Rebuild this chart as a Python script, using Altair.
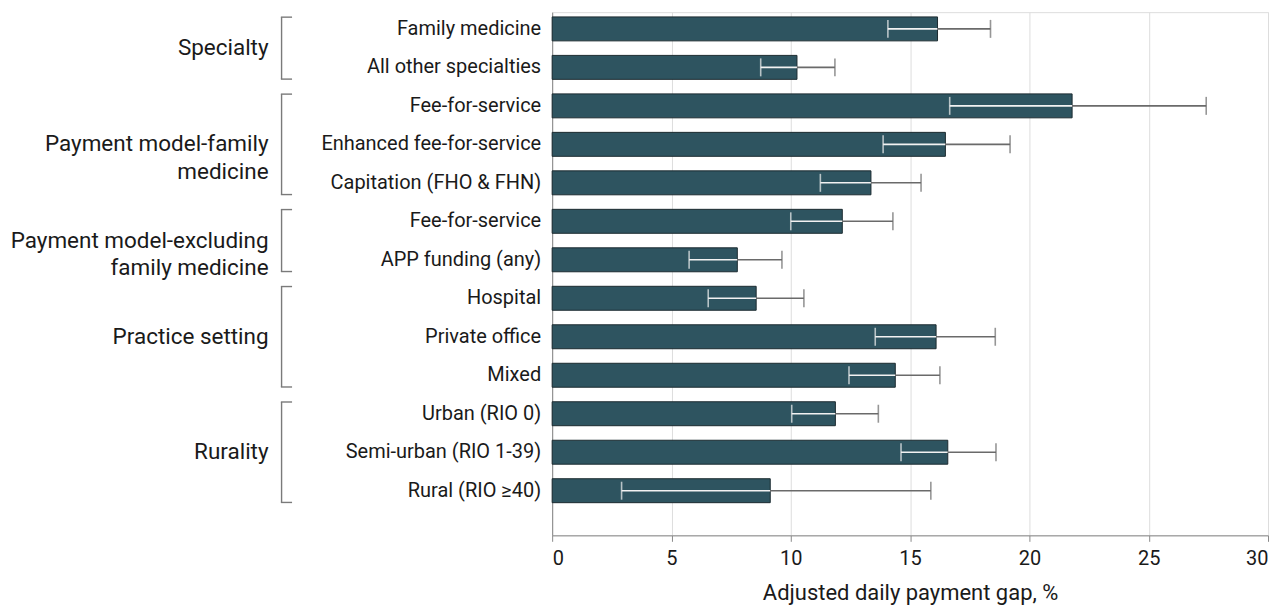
import altair as alt
import pandas as pd

labels = ["Family medicine", "All other specialties", "Fee-for-service",
          "Enhanced fee-for-service", "Capitation (FHO & FHN)", "Fee-for-service",
          "APP funding (any)", "Hospital", "Private office", "Mixed",
          "Urban (RIO 0)", "Semi-urban (RIO 1-39)", "Rural (RIO ≥40)"]
values = [16.15, 10.26, 21.79, 16.48, 13.36, 12.16, 7.76, 8.55, 16.09, 14.38, 11.87, 16.58, 9.14]
ci_low = [14.07, 8.74, 16.66, 13.87, 11.24, 10.00, 5.74, 6.54, 13.54, 12.44, 10.04, 14.62, 2.91]
ci_high = [18.37, 11.85, 27.41, 19.19, 15.46, 14.28, 9.63, 10.55, 18.57, 16.25, 13.67, 18.60, 15.87]
groups = ["Specialty", "Payment model-family\nmedicine", "Payment model-excluding\nfamily medicine",
          "Practice setting", "Rurality"]
group_sizes = [2, 3, 2, 3, 3]
x_ticks = [0, 5, 10, 15, 20, 25, 30]

df = pd.DataFrame({"idx": list(range(len(labels))), "label": labels,
                   "value": values, "lo": ci_low, "hi": ci_high})

rows = []
start = 0
for g, n in zip(groups, group_sizes):
    end = start + n - 1
    rows.append({"group": g, "mid": (start + end) / 2, "top": start - 0.305, "bottom": end + 0.305})
    start += n
gdf = pd.DataFrame(rows)

FONT = "Roboto"
TXT = "#1a1a1a"
x_axis = alt.Axis(title="Adjusted daily payment gap, %", values=x_ticks, grid=True,
                  gridColor="#dddddd", domainColor="#8a8a8a", tickColor="#8a8a8a",
                  tickSize=6, labelFontSize=20, labelColor=TXT, labelFont=FONT,
                  labelPadding=7, titleFont=FONT, titleFontSize=22, titleFontWeight="normal",
                  titleColor=TXT, titlePadding=14)
y_axis = alt.Axis(title=None, labels=False, ticks=False, grid=False, domainColor="#8a8a8a")
xs = alt.Scale(domain=[0, 30], nice=False)
ys = alt.Scale(domain=[-0.305, 13.03], reverse=True, nice=False, zero=False)

base = alt.Chart(df)
Y = alt.Y("idx:Q", scale=ys, axis=y_axis)

bars = base.mark_bar(orient="horizontal", size=24, color="#2e5460",
                     stroke="#1c2b30", strokeWidth=1).encode(
    x=alt.X("value:Q", scale=xs, axis=x_axis), y=Y)

err_in = base.mark_rule(color="#f2f2f2", strokeWidth=1.6).encode(
    x=alt.X("lo:Q", scale=xs, axis=x_axis), x2="value:Q", y=Y)
err_out = base.mark_rule(color="#6a6a6a", strokeWidth=1.6).encode(
    x=alt.X("value:Q", scale=xs, axis=x_axis), x2="hi:Q", y=Y)
cap_lo = base.mark_tick(orient="vertical", size=18, thickness=1.6, color="#f2f2f2").encode(
    x=alt.X("lo:Q", scale=xs, axis=x_axis), y=Y)
cap_hi = base.mark_tick(orient="vertical", size=18, thickness=1.6, color="#6a6a6a").encode(
    x=alt.X("hi:Q", scale=xs, axis=x_axis), y=Y)

row_text = base.mark_text(align="right", baseline="middle", font=FONT, fontSize=20,
                          color=TXT).encode(x=alt.value(-11), y=Y, text="label:N")

gbase = alt.Chart(gdf)
group_text = gbase.mark_text(align="right", baseline="middle", font=FONT, fontSize=22.5,
                             color=TXT, lineBreak="\n", lineHeight=28).encode(
    x=alt.value(-284), y=alt.Y("mid:Q", scale=ys, axis=y_axis), text="group:N")
br_v = gbase.mark_rule(color="#7a7a7a", strokeWidth=1.4).encode(
    x=alt.value(-271), y=alt.Y("top:Q", scale=ys, axis=y_axis), y2="bottom:Q")
br_t = gbase.mark_rule(color="#7a7a7a", strokeWidth=1.4).encode(
    x=alt.value(-271.7), x2=alt.value(-260.5), y=alt.Y("top:Q", scale=ys, axis=y_axis))
br_b = gbase.mark_rule(color="#7a7a7a", strokeWidth=1.4).encode(
    x=alt.value(-271.7), x2=alt.value(-260.5), y=alt.Y("bottom:Q", scale=ys, axis=y_axis))

chart = alt.layer(bars, err_in, err_out, cap_lo, cap_hi, row_text, group_text,
                  br_v, br_t, br_b).properties(
    width=717, height=524,
    autosize=alt.AutoSizeParams(type="none"),
    padding={"left": 545, "top": 3.7, "right": 10, "bottom": 70},
).configure_view(stroke=None).configure(background="white")

chart.save("out.html", embed_options={"renderer": "svg", "actions": False})
